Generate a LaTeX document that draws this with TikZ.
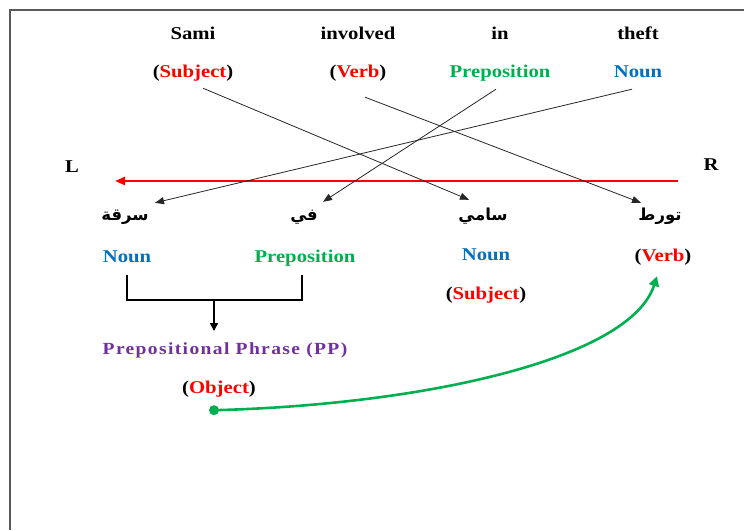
\documentclass[tikz,border=0pt]{standalone}
\usepackage{fontspec}
\setmainfont{Liberation Serif}[FakeStretch=1.15]
\newfontfamily\arabicfont[Script=Arabic]{DejaVu Sans}
\TeXXeTstate=1
\usetikzlibrary{arrows.meta}
\definecolor{cred}{RGB}{255,0,0}
\definecolor{cgreen}{RGB}{0,176,80}
\definecolor{cblue}{RGB}{0,112,192}
\definecolor{cpurple}{RGB}{112,48,160}
\definecolor{cframe}{RGB}{90,90,90}
\tikzset{
  lbl/.style={font=\fontsize{18}{20}\selectfont\bfseries, inner sep=1pt, text height=12pt, text depth=4pt},
  arlbl/.style={font=\fontsize{16.5}{18}\selectfont\arabicfont\bfseries, inner sep=1pt, text height=12pt, text depth=4pt},
  link/.style={draw=black!85, line width=0.8pt, -{Triangle[length=9pt,width=7pt]}},
  brk/.style={draw=black, line width=1.6pt},
}
\newcommand{\pr}[1]{(\textcolor{cred}{#1})}
\begin{document}
\begin{tikzpicture}[x=1pt,y=-1pt]
\useasboundingbox (0,0) rectangle (744,530);
% frame
\draw[cframe, line width=1.5pt] (10,530) -- (10,10) -- (744,10);
% English words
\node[lbl] (e1) at (193,35) {Sami};
\node[lbl] (e2) at (358,35) {involved};
\node[lbl] (e3) at (500,35) {in};
\node[lbl] (e4) at (638,35) {theft};
\node[lbl] (t1) at (193,73) {\pr{Subject}};
\node[lbl] (t2) at (358,73) {\pr{Verb}};
\node[lbl, text=cgreen] (t3) at (500,73) {Preposition};
\node[lbl, text=cblue] (t4) at (638,73) {Noun};
% L R
\node[lbl] (L) at (72,168) {L};
\node[lbl] (R) at (711,166) {R};
\coordinate (rs) at (678,181);
\coordinate (re) at (115,181);
\draw[cred, line width=2.4pt, -{Triangle[length=10pt,width=8pt]}] (rs) -- (re);
% Arabic words
\node[arlbl] (a1) at (125,216) {\beginR سرقة\endR};
\node[arlbl] (a2) at (304,216) {\beginR في\endR};
\node[arlbl] (a3) at (483,216) {\beginR سامي\endR};
\node[arlbl] (a4) at (660,216) {\beginR تورط\endR};
% connectors
\draw[link] ([shift={(10,6)}]t1.south) -- ([shift={(-14,-7)}]a3.north);
\draw[link] ([shift={(7,15)}]t2.south) -- ([shift={(-19,-4)}]a4.north);
\draw[link] ([shift={(-4,7)}]t3.south) -- ([shift={(19,-5)}]a2.north);
\draw[link] ([shift={(-6,7)}]t4.south) -- ([shift={(30,-4)}]a1.north);
% second labels
\node[lbl, text=cblue] (b1) at (127,258) {Noun};
\node[lbl, text=cgreen] (b2) at (305,258) {Preposition};
\node[lbl, text=cblue] (b3) at (486,256) {Noun};
\node[lbl] (b4) at (663,257) {\pr{Verb}};
\node[lbl] (b3s) at (486,295) {\pr{Subject}};
% bracket
\draw[brk] ([shift={(0,8)}]b1.south) -- ++(0,25) -| ([shift={(-3,8)}]b2.south);
\coordinate (bm) at (214,300);
\node[lbl, text=cpurple, font=\fontsize{17}{19}\selectfont\bfseries\addfontfeature{LetterSpace=8}] (pp) at (225,350) {Prepositional Phrase (PP)};
\draw[brk, -{Triangle[length=8pt,width=8pt]}] (bm) -- (214,331);
\node[lbl] (obj) at (219,389) {\pr{Object}};
% green curve
\coordinate (gd) at ([shift={(-5,12)}]obj.south);
\fill[cgreen] (gd) circle (5);
\draw[cgreen, line width=2.6pt, -{Triangle[length=10pt,width=10pt]}] (gd) .. controls (420,405) and (630,360) .. ([shift={(-6,10)}]b4.south);
\end{tikzpicture}
\end{document}
